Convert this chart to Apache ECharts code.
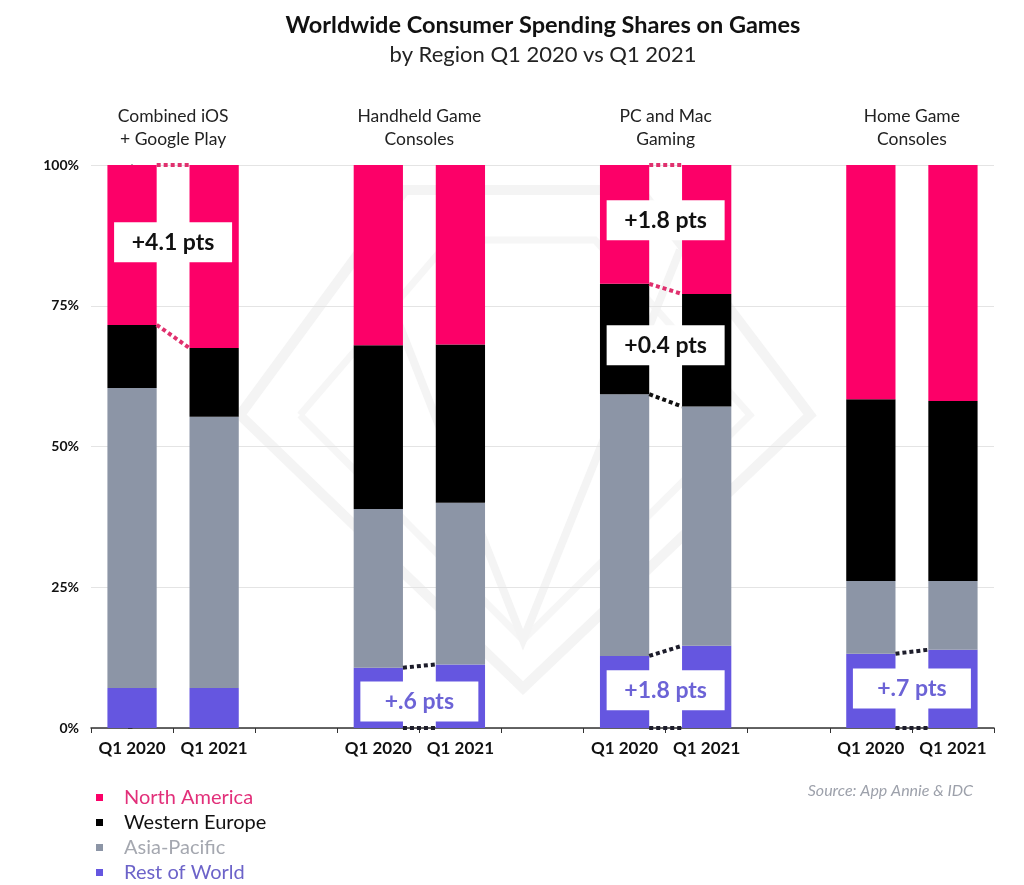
<!DOCTYPE html>
<html>
<head>
<meta charset="utf-8">
<script src="https://cdn.jsdelivr.net/npm/echarts@6/dist/echarts.min.js"></script>
<style>html,body{margin:0;padding:0;background:#fff;}#main{width:1024px;height:885px;}</style>
</head>
<body>
<div id="main"></div>
<script>
// ---- data ----
const titleText = 'Worldwide Consumer Spending Shares on Games';
const subtitleText = 'by Region Q1 2020 vs Q1 2021';
const platforms = ['Combined iOS\n+ Google Play', 'Handheld Game\nConsoles', 'PC and Mac\nGaming', 'Home Game\nConsoles'];
const periods = ['Q1 2020', 'Q1 2021'];
const regions = ['North America', 'Western Europe', 'Asia-Pacific', 'Rest of World'];
// order per platform: Q1 2020, Q1 2021
const northAmerica  = [28.4, 32.5, 32.0, 31.9, 21.1, 22.9, 41.6, 41.9];
const westernEurope = [11.2, 12.2, 29.1, 28.1, 19.6, 20.0, 32.3, 32.0];
const asiaPacific   = [53.3, 48.2, 28.2, 28.7, 46.5, 42.5, 12.9, 12.2];
const restOfWorld   = [7.1, 7.1, 10.7, 11.3, 12.8, 14.6, 13.2, 13.9];
const yTicks = [0, 25, 50, 75, 100];
// change callouts: platform index, label, vertical position (%), region
const calloutPlatform = [0, 1, 2, 2, 2, 3];
const calloutText = ['+4.1 pts', '+.6 pts', '+1.8 pts', '+0.4 pts', '+1.8 pts', '+.7 pts'];
const calloutLevel = [86.3, 4.7, 90.2, 68.0, 6.7, 7.0];
const calloutRegion = ['North America', 'Rest of World', 'North America', 'Western Europe', 'Rest of World', 'Rest of World'];
// connectors: platform index, boundary level (0 = base, 1 = top RoW, 2 = top APAC, 3 = top WE, 4 = top NA)
const connectorPlatform = [0, 0, 1, 1, 2, 2, 2, 2, 2, 3, 3];
const connectorLevel    = [4, 3, 1, 0, 4, 3, 2, 1, 0, 1, 0];

// ---- styling ----
const colors = {
  'North America': '#FC0068',
  'Western Europe': '#000000',
  'Asia-Pacific': '#8C95A6',
  'Rest of World': '#6556E0'
};
const legendText = {
  'North America': '#E2307A',
  'Western Europe': '#111111',
  'Asia-Pacific': '#A5A8B0',
  'Rest of World': '#6C63C9'
};
const calloutColor = {
  'North America': '#111111',
  'Western Europe': '#111111',
  'Rest of World': '#6C63D6'
};
const connectorColor = ['#1d1d2b', '#1d1d2b', '#111111', '#E0306E', '#E0306E'];

// ---- build slots (two bars per platform, blank slot between groups) ----
const slots = [];
const slotIndex = [];
platforms.forEach((p, g) => {
  periods.forEach((q, k) => { slotIndex.push(slots.length); slots.push(q); });
  if (g < platforms.length - 1) slots.push('');
});
function toSlots(arr) {
  const out = slots.map(() => '-');
  arr.forEach((v, i) => { out[slotIndex[i]] = v; });
  return out;
}
const stackOrder = [['Rest of World', restOfWorld], ['Asia-Pacific', asiaPacific], ['Western Europe', westernEurope], ['North America', northAmerica]];
function cumulative(i, level) {
  let s = 0;
  for (let l = 0; l < level; l++) s += stackOrder[l][1][i];
  return level === 4 ? 100 : s;
}
const HALF = 0.3; // half bar width in slot units (barWidth 60%)
const connectorData = connectorPlatform.map((g, j) => {
  const lv = connectorLevel[j];
  const a = slotIndex[g * 2], b = slotIndex[g * 2 + 1];
  return {
    coords: [[a + HALF, cumulative(g * 2, lv)], [b - HALF, cumulative(g * 2 + 1, lv)]],
    lineStyle: { color: connectorColor[lv] }
  };
});
const calloutData = calloutText.map((t, j) => {
  const g = calloutPlatform[j];
  const x = (slotIndex[g * 2] + slotIndex[g * 2 + 1]) / 2;
  return { value: [x, calloutLevel[j]], name: t, label: { color: calloutColor[calloutRegion[j]] } };
});
const groupCenters = platforms.map((p, g) => (slotIndex[g * 2] + slotIndex[g * 2 + 1]) / 2);

const FONT = 'Lato, "Noto Sans", sans-serif';
const chart = echarts.init(document.getElementById('main'), null, { renderer: 'canvas' });

const barSeries = stackOrder.map(([name, arr]) => ({
  name, type: 'bar', stack: 'total', barWidth: '60%',
  itemStyle: { color: colors[name] },
  data: toSlots(arr), z: 2
}));

chart.setOption({
  backgroundColor: '#ffffff',
  animation: false,
  textStyle: { fontFamily: FONT },
  grid: { left: 91, right: 30, top: 165, bottom: 157, containLabel: false },
  legend: {
    orient: 'vertical', left: 96, top: 787, itemGap: 4, icon: 'rect', padding: 0,
    itemWidth: 7, itemHeight: 7, height: 120,
    selectedMode: false,
    textStyle: { fontFamily: FONT, fontSize: 20, lineHeight: 21, padding: [0, 0, 0, 16] },
    data: regions.map(r => ({ name: r, textStyle: { color: legendText[r] } }))
  },
  xAxis: [{
    type: 'category', data: slots, position: 'bottom',
    axisLine: { lineStyle: { color: '#333', width: 1.5 } },
    axisTick: { show: true, length: 5, interval: 0, lineStyle: { color: '#333' } },
    axisLabel: { interval: 0, margin: 12, fontFamily: FONT, fontSize: 17, fontWeight: 'bold', color: '#111' }
  }, {
    type: 'value', position: 'top', min: -0.5, max: slots.length - 0.5,
    axisLine: { show: false }, axisTick: { show: false }, splitLine: { show: false },
    axisLabel: {
      customValues: groupCenters, margin: 14,
      fontFamily: FONT, fontSize: 17.5, color: '#222', lineHeight: 23,
      formatter: v => { const i = groupCenters.findIndex(c => Math.abs(c - v) < 1e-6); return i >= 0 ? platforms[i] : ''; }
    }
  }],
  yAxis: {
    type: 'value', min: 0, max: 100, interval: 25,
    axisLine: { show: true, lineStyle: { color: '#333', width: 1.5 } },
    axisTick: { show: true, length: 4, lineStyle: { color: '#333' } },
    splitLine: { lineStyle: { color: '#e4e4e4', width: 1.2 } },
    axisLabel: { formatter: v => yTicks.includes(v) ? v + '%' : '', fontFamily: FONT, fontSize: 14, fontWeight: 'bold', color: '#111', margin: 12 }
  },
  graphic: [
    {
      type: 'text', x: 543, y: 25, z: 5,
      style: { text: titleText, font: 'bold 23.5px ' + FONT, fill: '#111', textAlign: 'center', textVerticalAlign: 'middle' }
    },
    {
      type: 'text', x: 543, y: 55, z: 5,
      style: { text: subtitleText, font: '22px ' + FONT, fill: '#222', textAlign: 'center', textVerticalAlign: 'middle' }
    },
    {
      type: 'text', right: 51, top: 783, z: 5,
      style: { text: 'Source: App Annie & IDC', font: 'italic 16px ' + FONT, fill: '#9DA1AB' }
    },
    {
      type: 'group', z: -10, silent: true,
      children: [
        { type: 'polyline', shape: { points: [[240, 415], [405, 190], [640, 190], [810, 415], [523, 688], [240, 415]] }, style: { stroke: '#f4f4f4', lineWidth: 10, fill: null } },
        { type: 'polyline', shape: { points: [[300, 415], [450, 240], [595, 240], [750, 415], [523, 640], [300, 415]] }, style: { stroke: '#f6f6f6', lineWidth: 7, fill: null } },
        { type: 'polyline', shape: { points: [[370, 250], [523, 640], [680, 250]] }, style: { stroke: '#f4f4f4', lineWidth: 8, fill: null } }
      ]
    }
  ],
  series: barSeries.concat([
    {
      type: 'lines', coordinateSystem: 'cartesian2d', xAxisIndex: 1, yAxisIndex: 0,
      polyline: false, silent: true, z: 3,
      lineStyle: { width: 4, type: [4, 3], opacity: 1, cap: 'butt' },
      data: connectorData
    },
    {
      type: 'scatter', xAxisIndex: 1, yAxisIndex: 0, z: 4,
      symbol: 'rect', symbolSize: [118, 40],
      itemStyle: { color: '#ffffff', opacity: 1 },
      label: { show: true, position: 'inside', formatter: '{b}', fontFamily: FONT, fontSize: 23, fontWeight: 'bold' },
      data: calloutData
    }
  ])
});
</script>
</body>
</html>
